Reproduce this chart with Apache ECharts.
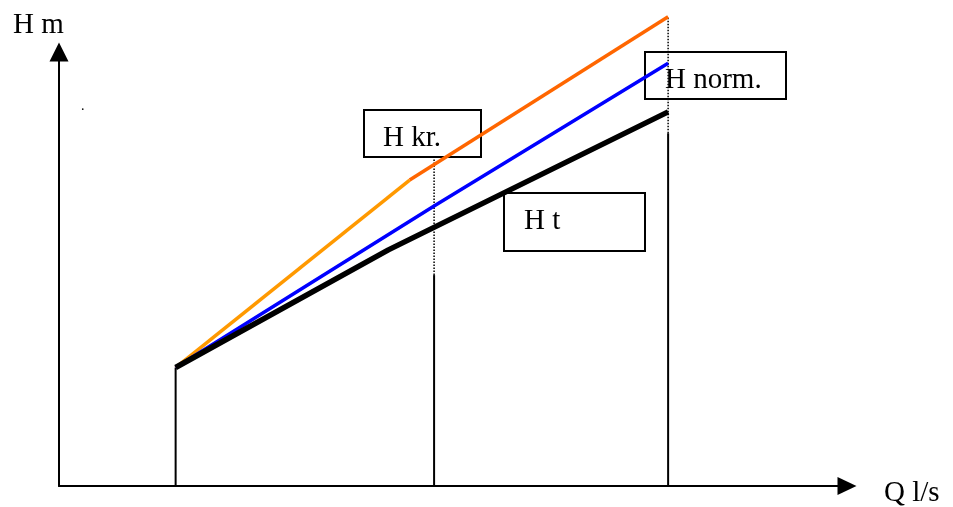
<!DOCTYPE html>
<html>
<head>
<meta charset="utf-8">
<script src="https://cdn.jsdelivr.net/npm/echarts@6/dist/echarts.min.js"></script>
<style>
  html, body { margin: 0; padding: 0; background: #fff; }
  #chart { width: 953px; height: 507px; }
</style>
</head>
<body>
<div id="chart"></div>
<script>
// values, in axis units (Q 0..100, H 0..100)
var htQ = [14.8, 41.8, 77.3];
var htH = [27.3, 54.4, 86.2];
var hnormQ = [14.8, 47.6, 77.3];
var hnormH = [27.3, 64.5, 97.4];
var hkrQ = [14.8, 44.5, 77.3];
var hkrH = [27.3, 70.5, 108.1];
var dropQ = [14.8, 47.6, 77.3];
var dropSolidTop = [27.3, 48.6, 81.3];
var dropDottedTop = [null, 75.6, 108.1];
var boxLabels = ['H kr.', 'H norm.', 'H t'];
var axisNames = ['H m', 'Q l/s'];

function pts(q, h, from, to) {
    var out = [];
    for (var i = from; i <= to; i++) out.push([q[i], h[i]]);
    return out;
}

var font = '29px "Liberation Serif", "DejaVu Serif", serif';

var series = [];
// vertical drop lines
for (var i = 0; i < dropQ.length; i++) {
    series.push({
        type: 'line', symbol: 'none', clip: false, silent: true,
        lineStyle: { color: '#000', width: 2 },
        data: [[dropQ[i], 0], [dropQ[i], dropSolidTop[i]]]
    });
    if (dropDottedTop[i] != null) {
        series.push({
            type: 'line', symbol: 'none', clip: false, silent: true,
            lineStyle: { color: '#000', width: 1.5, type: [1.5, 1.5] },
            data: [[dropQ[i], dropSolidTop[i]], [dropQ[i], dropDottedTop[i]]]
        });
    }
}
series.push({
    type: 'line', symbol: 'none', clip: false,
    lineStyle: { color: '#ff9900', width: 3.5 },
    data: pts(hkrQ, hkrH, 0, 1)
});
series.push({
    type: 'line', symbol: 'none', clip: false,
    lineStyle: { color: '#ff6600', width: 3.5 },
    data: pts(hkrQ, hkrH, 1, 2)
});
series.push({
    type: 'line', symbol: 'none', clip: false,
    lineStyle: { color: '#0000ff', width: 3.5 },
    data: pts(hnormQ, hnormH, 0, 2)
});
series.push({
    type: 'line', symbol: 'none', clip: false,
    lineStyle: { color: '#000', width: 5.5 },
    data: pts(htQ, htH, 0, 2)
});

var chartDom = document.getElementById('chart');
var myChart = echarts.init(chartDom);
var option;

option = {
    animation: false,
    backgroundColor: '#fff',
    grid: { left: 59, top: 52, width: 788, height: 434 },
    xAxis: {
        type: 'value', min: 0, max: 100,
        axisLine: { lineStyle: { color: '#000', width: 2 }, symbol: ['none', 'triangle'], symbolSize: [18, 19] },
        axisTick: { show: false }, axisLabel: { show: false }, splitLine: { show: false }
    },
    yAxis: {
        type: 'value', min: 0, max: 100,
        axisLine: { lineStyle: { color: '#000', width: 2 }, symbol: ['none', 'triangle'], symbolSize: [19, 19] },
        axisTick: { show: false }, axisLabel: { show: false }, splitLine: { show: false }
    },
    graphic: [
        { type: 'rect', shape: { x: 364, y: 110, width: 117, height: 47 }, style: { fill: 'none', stroke: '#000', lineWidth: 2 } },
        { type: 'rect', shape: { x: 645, y: 52, width: 141, height: 47 }, style: { fill: 'none', stroke: '#000', lineWidth: 2 } },
        { type: 'rect', shape: { x: 504, y: 193, width: 141, height: 58 }, style: { fill: 'none', stroke: '#000', lineWidth: 2 } },
        { type: 'text', x: 383, y: 138, style: { text: boxLabels[0], font: font, fill: '#000', verticalAlign: 'middle' } },
        { type: 'text', x: 665, y: 80, style: { text: boxLabels[1], font: font, fill: '#000', verticalAlign: 'middle' } },
        { type: 'text', x: 524, y: 221, style: { text: boxLabels[2], font: font, fill: '#000', verticalAlign: 'middle' } },
        { type: 'text', x: 13, y: 25, style: { text: axisNames[0], font: font, fill: '#000', verticalAlign: 'middle' } },
        { type: 'text', x: 884, y: 493, style: { text: axisNames[1], font: font, fill: '#000', verticalAlign: 'middle' } },
        { type: 'text', x: 81, y: 106, style: { text: '.', font: '14px "Liberation Serif", serif', fill: '#000', verticalAlign: 'middle' } }
    ],
    series: series
};

option && myChart.setOption(option);
</script>
</body>
</html>
